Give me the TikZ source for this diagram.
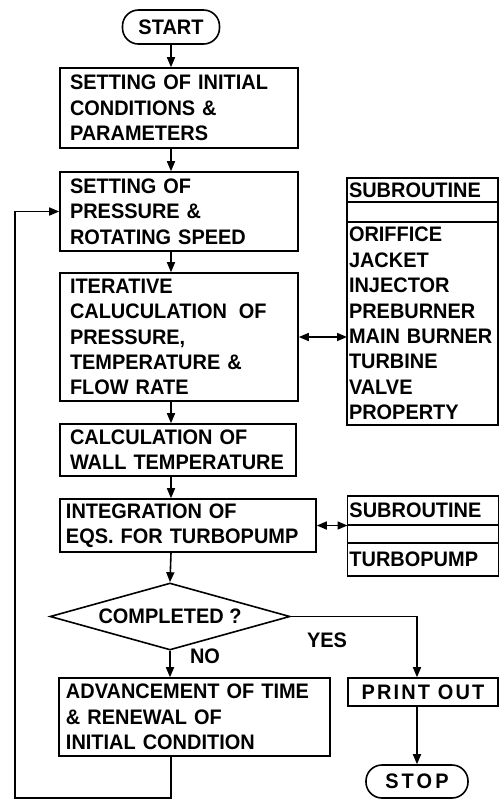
\documentclass[tikz,border=0pt]{standalone}
\usepackage{fontspec}
\setmainfont{Liberation Sans}[FakeStretch=0.95]
\usepackage{tikz}
\usetikzlibrary{positioning, arrows.meta, shapes.geometric, calc}

\begin{document}
\begin{tikzpicture}[
  x=0.5pt, y=-0.5pt,
  every node/.style={font=\fontsize{10.5}{12.7}\selectfont\bfseries},
  procbox/.style={
    rectangle, draw, line width=0.8pt,
    align=left, inner xsep=5pt, inner ysep=0pt
  },
  termbox/.style={
    rectangle, draw, line width=0.8pt,
    rounded corners=8pt, inner sep=0pt
  },
  subbox/.style={
    rectangle, draw, line width=0.8pt, outer sep=0pt,
    align=left, inner xsep=1pt, inner ysep=0pt,
    text width=73.5pt
  },
  flow/.style={line width=0.8pt, -{Triangle[length=5pt, width=4pt]}},
  twoway/.style={line width=0.8pt,
    {Triangle[length=5pt, width=4pt]}-{Triangle[length=5pt, width=4pt]}},
]

\useasboundingbox (0,0) rectangle (499,800);

% Main column
\node[termbox, minimum width=48.5pt, minimum height=17pt] (start) at (171,27) {START};
\node[procbox, text width=109pt, minimum height=40pt] (init) at (179,108)
  {SETTING OF INITIAL\\CONDITIONS \&\\PARAMETERS};
\node[procbox, text width=109pt, minimum height=39.5pt] (press) at (179,211.5)
  {SETTING OF\\PRESSURE \&\\ROTATING SPEED};
\node[procbox, text width=109pt, minimum height=64pt] (iter) at (179,337)
  {ITERATIVE\\CALUCULATION\hspace{6pt}OF\\PRESSURE,\\TEMPERATURE \&\\FLOW RATE};
\node[procbox, text width=108pt, minimum height=26pt] (wall) at (178,450)
  {CALCULATION OF\\WALL TEMPERATURE};
\node[procbox, inner xsep=3pt, text width=122pt, minimum height=26.5pt] (integ) at (188,525.5)
  {INTEGRATION OF\\EQS. FOR TURBOPUMP};
\node[diamond, draw, line width=0.8pt, aspect=3.6, inner sep=0pt,
  minimum width=120pt, minimum height=33.5pt] (dec) at (170,616.5) {COMPLETED ?};
\node[procbox, inner xsep=3.5pt, text width=128.5pt, minimum height=39pt] (adv) at (194.5,717)
  {ADVANCEMENT OF TIME\\\& RENEWAL OF\\INITIAL CONDITION};

% Right column
\node[procbox, inner sep=0pt, align=center, minimum width=75pt, minimum height=14pt,
  font=\fontsize{10.5}{12.7}\selectfont\bfseries\addfontfeatures{LetterSpace=10}] (print) at (423,692)
  {PRINT\hspace{4pt}OUT};
\node[termbox, minimum width=51pt, minimum height=16.5pt,
  font=\fontsize{10.5}{12.7}\selectfont\bfseries\addfontfeatures{LetterSpace=15}] (stop) at (417,781.5) {STOP};

% Subroutine lists
\node[subbox, minimum height=12pt] (sub1head) at (422.5,190) {SUBROUTINE};
\node[subbox, minimum height=10pt] (sub1gap) at (422.5,212) {};
\node[subbox, minimum height=101.5pt] (sub1list) at (422.5,323.5)
  {ORIFFICE\\JACKET\\INJECTOR\\PREBURNER\\MAIN BURNER\\TURBINE\\VALVE\\PROPERTY};
\node[subbox, minimum height=14.5pt] (sub2head) at (423,510.5) {SUBROUTINE};
\node[subbox, minimum height=9pt] (sub2gap) at (423,534) {};
\node[subbox, minimum height=16.5pt] (sub2list) at (423,559.5) {TURBOPUMP};

% Branch labels
\node (yes) at (327,640) {YES};
\node (no) at (205,656) {NO};

% Flow lines
\coordinate (axis) at (171,0);
\coordinate (loopcorner) at (15,798);
\draw[flow] (start.south) -- (axis |- init.north);
\draw[flow] (axis |- init.south) -- (axis |- press.north);
\draw[flow] (axis |- press.south) -- (axis |- iter.north);
\draw[flow] (axis |- iter.south) -- (axis |- wall.north);
\draw[flow] (axis |- wall.south) -- (axis |- integ.north);
\draw[flow] (axis |- integ.south) -- (dec.north);
\draw[flow] (dec.south) -- (dec.south |- adv.north);
\draw[flow] (dec.east) -| (stop.north |- print.north);
\draw[flow] (stop.north |- print.south) -- (stop.north);
\draw[flow] (axis |- adv.south) |- (loopcorner) |- (press.west);

% Calls to subroutines
\draw[twoway] (iter.east) -- (iter.east -| sub1list.west);
\draw[twoway] (integ.east) -- (integ.east -| sub2gap.west);

\end{tikzpicture}
\end{document}
